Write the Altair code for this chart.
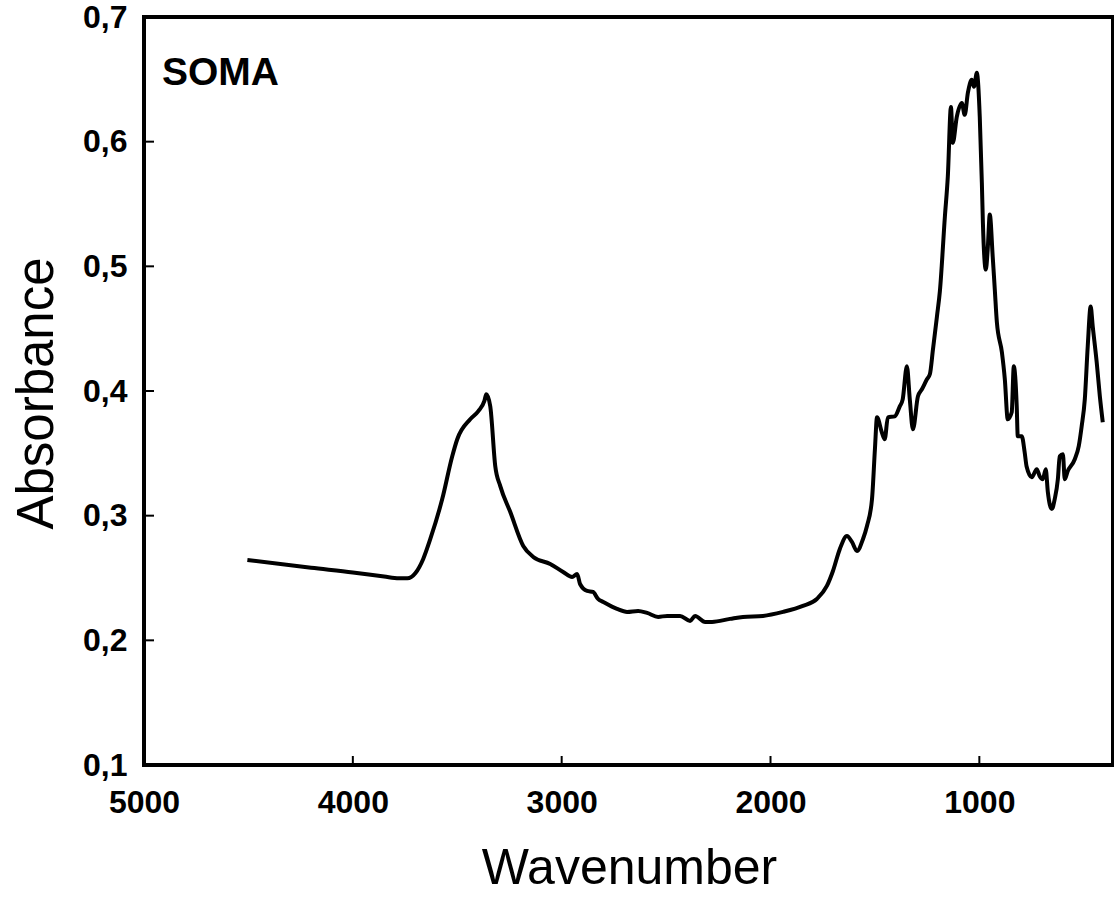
import altair as alt
import pandas as pd

wavenumber = [
    4505, 4200, 4000, 3850, 3780, 3739, 3700, 3663, 3629, 3572, 3524, 3500,
    3438, 3399, 3370, 3361, 3342, 3318, 3294, 3246, 3184, 3136, 3055, 2993,
    2950, 2926, 2912, 2878, 2850, 2826, 2801, 2735, 2687, 2634, 2591, 2538,
    2495, 2433, 2385, 2361, 2313, 2280, 2194, 2132, 2036, 1940, 1845, 1778,
    1730, 1701, 1668, 1634, 1610, 1586, 1557, 1538, 1514, 1500, 1490, 1467,
    1453, 1438, 1405, 1381, 1367, 1347, 1333, 1318, 1294, 1275, 1251, 1237,
    1222, 1203, 1189, 1165, 1151, 1136, 1127, 1108, 1084, 1070, 1055, 1036,
    1026, 1012, 998, 988, 983, 969, 960, 950, 936, 926, 916, 892, 878, 864,
    845, 835, 821, 816, 797, 783, 774, 749, 725, 711, 696, 682, 672, 653,
    639, 624, 615, 600, 591, 577, 543, 524, 510, 495, 481, 467, 457, 438,
    423, 409,
]
absorbance = [
    0.2644, 0.2582, 0.2545, 0.2512, 0.2498, 0.2497, 0.2540, 0.2653, 0.2813,
    0.3133, 0.3477, 0.3613, 0.3773, 0.3838, 0.3920, 0.3974, 0.3878, 0.3397,
    0.3237, 0.3029, 0.2757, 0.2669, 0.2613, 0.2548, 0.2508, 0.2532, 0.2452,
    0.2396, 0.2388, 0.2332, 0.2308, 0.2252, 0.2228, 0.2236, 0.2220, 0.2188,
    0.2196, 0.2196, 0.2156, 0.2196, 0.2148, 0.2148, 0.2172, 0.2188, 0.2196,
    0.2228, 0.2276, 0.2332, 0.2436, 0.2556, 0.2733, 0.2837, 0.2789, 0.2717,
    0.2813, 0.2917, 0.3133, 0.3533, 0.3789, 0.3669, 0.3613, 0.3789, 0.3797,
    0.3877, 0.3933, 0.4198, 0.3933, 0.3693, 0.3958, 0.4014, 0.4094, 0.4134,
    0.4334, 0.4598, 0.4800, 0.5399, 0.5719, 0.6279, 0.5991, 0.6199, 0.6311,
    0.6215, 0.6391, 0.6496, 0.6440, 0.6552, 0.6199, 0.5671, 0.5351, 0.4974,
    0.5135, 0.5415, 0.5078, 0.4814, 0.4550, 0.4310, 0.4094, 0.3773, 0.3829,
    0.4198, 0.3878, 0.3637, 0.3637, 0.3509, 0.3397, 0.3309, 0.3373, 0.3317,
    0.3293, 0.3373, 0.3189, 0.3053, 0.3133, 0.3293, 0.3477, 0.3493, 0.3293,
    0.3357, 0.3453, 0.3557, 0.3717, 0.3934, 0.4358, 0.4678, 0.4518, 0.4230,
    0.3958, 0.3750,
]

x_ticks = [5000, 4000, 3000, 2000, 1000]
x_inner_ticks = [4000, 3000, 2000, 1000]
y_ticks = [0.1, 0.2, 0.3, 0.4, 0.5, 0.6, 0.7]
y_inner_ticks = [0.2, 0.3, 0.4, 0.5, 0.6]
label_text = ["SOMA"]

FONT = "Arial, Liberation Sans, sans-serif"
W, H = 969, 748

df = pd.DataFrame({"wn": wavenumber, "ab": absorbance})
xscale = alt.Scale(domain=[360, 5000], reverse=True, nice=False, zero=False)
yscale = alt.Scale(domain=[0.1, 0.7], nice=False, zero=False)

line = alt.Chart(df).mark_line(
    color="black", strokeWidth=4, strokeJoin="round", interpolate="monotone"
).encode(
    x=alt.X(
        "wn:Q",
        scale=xscale,
        axis=alt.Axis(
            values=x_ticks,
            format="d",
            title="Wavenumber",
            domain=False,
            ticks=False,
            grid=False,
            labelFont=FONT,
            labelFontSize=32,
            labelFontWeight="bold",
            labelColor="black",
            labelPadding=22,
            labelFlush=False,
            labelOverlap=False,
            titleFont=FONT,
            titleFontSize=50,
            titleFontWeight="normal",
            titleColor="black",
            titleBaseline="alphabetic",
            titleX=485,
            titleY=118,
        ),
    ),
    y=alt.Y(
        "ab:Q",
        scale=yscale,
        axis=alt.Axis(
            values=y_ticks,
            labelExpr="replace(format(datum.value, '.1f'), '.', ',')",
            title="Absorbance",
            domain=False,
            ticks=False,
            grid=False,
            labelFont=FONT,
            labelFontSize=32,
            labelFontWeight="bold",
            labelColor="black",
            labelPadding=17,
            labelFlush=False,
            labelOverlap=False,
            titleFont=FONT,
            titleFontSize=51,
            titleFontWeight="normal",
            titleColor="black",
            titleAngle=270,
            titleBaseline="alphabetic",
            titleAlign="center",
            titleX=-92,
            titleY=376,
        ),
    ),
)

xt = alt.Chart(pd.DataFrame({"t": x_inner_ticks})).mark_rule(color="black", strokeWidth=2).encode(
    x=alt.X("t:Q", scale=xscale),
    y=alt.value(H),
    y2=alt.value(H - 9),
)
yt = alt.Chart(pd.DataFrame({"t": y_inner_ticks})).mark_rule(color="black", strokeWidth=2).encode(
    y=alt.Y("t:Q", scale=yscale),
    x=alt.value(0),
    x2=alt.value(10),
)
txt = alt.Chart(pd.DataFrame({"label": label_text})).mark_text(
    font=FONT, fontSize=39, fontWeight="bold", color="black", align="left", baseline="alphabetic"
).encode(
    text="label:N",
    x=alt.value(18),
    y=alt.value(68),
)

chart = alt.layer(line, xt, yt, txt).properties(
    width=W,
    height=H,
    autosize=alt.AutoSizeParams(type="none"),
    padding={"left": 144, "top": 17, "right": 1, "bottom": 142},
    background="white",
).configure_view(stroke="black", strokeWidth=4)

chart.save("out.html", embed_options={"renderer": "svg", "actions": False})
